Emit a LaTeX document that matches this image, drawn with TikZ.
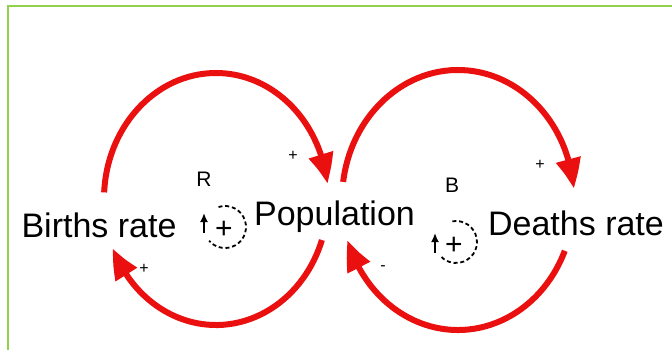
\documentclass[tikz,border=0pt]{standalone}
\usepackage{fontspec}
\setmainfont{Liberation Sans}
\usetikzlibrary{arrows.meta,bending}
\definecolor{framegreen}{RGB}{146,208,80}
\definecolor{loopred}{RGB}{235,16,16}
\begin{document}
\begin{tikzpicture}[x=1pt,y=1pt,
  bigtext/.style={font=\fontsize{34}{34}\selectfont, anchor=base, inner sep=0pt},
  looplabel/.style={font=\fontsize{21}{21}\selectfont, anchor=base, inner sep=0pt},
  polarity/.style={font=\fontsize{16}{16}\selectfont, inner sep=0pt},
  redarc/.style={draw=loopred, line width=6pt, -{Triangle[length=30pt,width=24pt,bend]}},
  dashcirc/.style={draw=black, line width=1.8pt, dash pattern=on 4pt off 2.8pt},
  smallarrow/.style={draw=black, line width=1.8pt, -{Latex[length=9pt,width=8pt]}},
  plussign/.style={font=\fontsize{30}{30}\selectfont, inner sep=0pt}]
\useasboundingbox (0,0) rectangle (672,349);
% frame (right and bottom edges lie outside the picture)
\draw[framegreen, line width=2pt] (7.5,-20) rectangle (700,342.5);

% main texts
\node[bigtext] (births) at (99,112) {Births rate};
\node[bigtext] (pop) at (334.5,124) {Population};
\node[bigtext] (deaths) at (576,114) {Deaths rate};

% loop centres
\coordinate (lc) at (216,150);
\coordinate (rc) at (458,149);

% red loops
\draw[redarc] (lc) ++(177:112 and 126) arc[start angle=177, end angle=7, x radius=112, y radius=126];
\draw[redarc] (lc) ++(-19:112 and 126) arc[start angle=-19, end angle=-157, x radius=112, y radius=126];
\draw[redarc] (rc) ++(172:116 and 130) arc[start angle=172, end angle=5, x radius=116, y radius=130];
\draw[redarc] (rc) ++(-23:116 and 130) arc[start angle=-23, end angle=-162, x radius=116, y radius=130];

% polarity signs
\node[polarity] (p1) at (293,193) {+};
\node[polarity] (p2) at (144,80) {+};
\node[polarity] (p3) at (540,184) {+};
\node[polarity] (p4) at (383,81) {-};

% loop labels
\node[looplabel] (R) at (204,163) {R};
\node[looplabel] (B) at (452,157) {B};

% R loop symbol
\coordinate (rcen) at (225,122);
\draw[dashcirc] (rcen) ++(108:21) arc[start angle=108, end angle=-139, radius=21];
\coordinate (ra1) at (204,116);
\coordinate (ra2) at (204,136);
\draw[smallarrow] (ra1) -- (ra2);
\node[plussign] (rplus) at (224,119) {+};

% B loop symbol
\coordinate (bcen) at (456,107);
\draw[dashcirc] (bcen) ++(100:21) arc[start angle=100, end angle=-139, radius=21];
\coordinate (ba1) at (435,96);
\coordinate (ba2) at (435,116);
\draw[smallarrow] (ba1) -- (ba2);
\node[plussign] (bplus) at (454,103) {+};
\end{tikzpicture}
\end{document}
